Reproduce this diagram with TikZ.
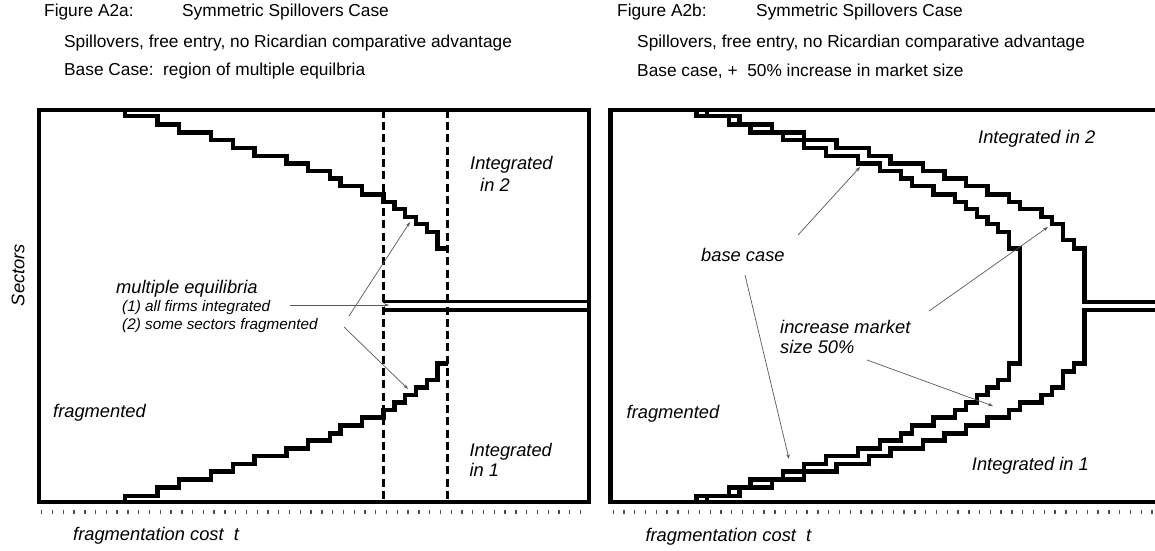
\documentclass[tikz,border=0pt]{standalone}
\usepackage{fontspec}
\setmainfont{Liberation Sans}
\usetikzlibrary{arrows.meta}
\begin{document}
\begin{tikzpicture}[x=1pt,y=-1pt,
  frame/.style={line width=4.4pt},
  stair/.style={line width=4.4pt, line join=miter},
  dline/.style={line width=3.2pt},
  dashline/.style={line width=3pt, dash pattern=on 8pt off 4.3pt},
  pointer/.style={line width=0.7pt, draw=black!65, -{Stealth[length=5pt,width=3.5pt]}},
  tickmark/.style={line width=1.4pt, draw=black!70},
  title/.style={font=\fontsize{17.3}{20}\selectfont, anchor=west, inner sep=0pt},
  lab/.style={font=\fontsize{18.3}{21}\selectfont\itshape, anchor=west, inner sep=0pt},
  smalllab/.style={font=\fontsize{15.3}{18}\selectfont\itshape, anchor=west, inner sep=0pt}
]
\clip (0,0) rectangle (1155,550);
\fill[white] (0,0) rectangle (1155,550);

% ---------- titles ----------
\node[title] (ta1) at (44,12) {Figure A2a:};
\node[title] (ta2) at (182,12) {Symmetric Spillovers Case};
\node[title] (ta3) at (64,43) {Spillovers, free entry, no Ricardian comparative advantage};
\node[title] (ta4) at (64,71) {Base Case:\ \ region of multiple equilbria};
\node[title] (tb1) at (617,12) {Figure A2b:};
\node[title] (tb2) at (756,12) {Symmetric Spillovers Case};
\node[title] (tb3) at (637,43) {Spillovers, free entry, no Ricardian comparative advantage};
\node[title] (tb4) at (637,71) {Base case, +\ \ 50\% increase in market size};

% ---------- frames ----------
\draw[frame] (38.8,109.7) rectangle (588.8,501.9);
\draw[frame] (610.3,109.7) rectangle (1160.3,501.9);

% ---------- ticks ----------
\foreach \k in {0,...,50} {
  \draw[tickmark] ({41.7+10.777*\k},509.8) -- ++(0,3.8);
  \draw[tickmark] ({613.2+10.777*\k},509.8) -- ++(0,3.8);
}

% ---------- left panel ----------
\draw[dashline] (383.3,109.7) -- (383.3,501.9);
\draw[dashline] (447.7,109.7) -- (447.7,501.9);
\draw[dline] (383.3,301.7) -- (589,301.7);
\draw[dline] (383.3,310) -- (589,310);
\begin{scope}[shift={(125,0)}, x=10.777pt]
\draw[stair] (0,109.7) |- (3,115.7) |- (5,124.3) |- (8,132.3) |- (10,140) |- (12,147.7) |- (15,155.7) |- (17,163.3) |- (19,171) |- (20,178.3) |- (22,186) |- (24,194.3) |- (25,201.7) |- (26,209) |- (27,216.7) |- (28,224) |- (29,231.7) |- (30,248.3);
\draw[stair] (0,501.9) |- (3,495.9) |- (5,487.3) |- (8,479.3) |- (10,471.6) |- (12,463.9) |- (15,455.9) |- (17,448.3) |- (19,440.6) |- (20,433.3) |- (22,425.6) |- (24,417.3) |- (25,409.9) |- (26,402.6) |- (27,394.9) |- (28,387.6) |- (29,379.9) |- (30,363.3);
\end{scope}

\node[lab] (lint2) at (470,165) {Integrated};
\node[lab] (lint2b) at (480,185) {in 2};
\node[lab] (lmult) at (116,289) {multiple equilibria};
\node[smalllab] (lone) at (122,307.3) {(1) all firms integrated};
\node[smalllab] (ltwo) at (122,325.7) {(2) some sectors fragmented};
\node[lab] (lfrag) at (53,413) {fragmented};
\node[lab] (lint1) at (469.3,451.7) {Integrated};
\node[lab] (lint1b) at (469.3,470) {in 1};
\node[lab] (lcost) at (73,536) {fragmentation cost\ \ t};
\node[lab, rotate=90, anchor=center] (lsect) at (18,275) {Sectors};

\coordinate (a1s) at (290,305);   \coordinate (a1e) at (389,305);
\coordinate (a2s) at (349,316);   \coordinate (a2e) at (410,222);
\coordinate (a3s) at (344,327);   \coordinate (a3e) at (408,389);
\draw[pointer] (a1s) -- (a1e);
\draw[pointer] (a2s) -- (a2e);
\draw[pointer] (a3s) -- (a3e);

% ---------- right panel ----------
\begin{scope}[shift={(696.5,0)}, x=10.777pt]
\draw[stair] (0,109.7) |- (3,115.7) |- (5,124.3) |- (8,132.3) |- (10,140) |- (12,147.7) |- (15,155.7) |- (17,163.3) |- (19,171) |- (20,178.3) |- (22,186) |- (24,194.3) |- (25,201.7) |- (26,209) |- (27,216.7) |- (28,224) |- (29,231.7) |- (30,248.3)
  -- (30,363.3) -| (29,379.9) -| (28,387.6) -| (27,394.9) -| (26,402.6) -| (25,409.9) -| (24,417.3) -| (22,425.6) -| (20,433.3) -| (19,440.6) -| (17,448.3) -| (15,455.9) -| (12,463.9) -| (10,471.6) -| (8,479.3) -| (5,487.3) -| (3,495.9) -| (0,501.9);
\draw[stair] (1,109.7) |- (4,115.7) |- (7,124.3) |- (10,132.3) |- (13,140) |- (16,147.7) |- (18,155.7) |- (21,163.3) |- (23,171) |- (25,178.3) |- (27,186) |- (29,194.3) |- (30,201.7) |- (32,209) |- (33,216.7) |- (34,224) |- (35,240) |- (36,248.3) |- (45,301.7);
\draw[stair] (45,310) -| (36,363.3) -| (35,371.6) -| (34,387.6) -| (33,394.9) -| (32,402.6) -| (30,409.9) -| (29,417.3) -| (27,425.6) -| (25,433.3) -| (23,440.6) -| (21,448.3) -| (18,455.9) -| (16,463.9) -| (13,471.6) -| (10,479.3) -| (7,487.3) -| (4,495.9) -| (1,501.9);
\end{scope}

\node[lab] (rint2) at (978,138.3) {Integrated in 2};
\node[lab] (rbase) at (701,255) {base case};
\node[lab] (rinc) at (780,326.7) {increase market};
\node[lab] (rinc2) at (780,346.7) {size 50\%};
\node[lab] (rfrag) at (626.5,413.3) {fragmented};
\node[lab] (rint1) at (971.7,465.7) {Integrated in 1};
\node[lab] (rcost) at (645.3,536.7) {fragmentation cost\ \ t};

\coordinate (b1s) at (798,235);   \coordinate (b1e) at (860,167);
\coordinate (b2s) at (745,275);   \coordinate (b2e) at (789,459);
\coordinate (c1s) at (929,311);   \coordinate (c1e) at (1048,227);
\coordinate (c2s) at (867,360);   \coordinate (c2e) at (993,406);
\draw[pointer] (b1s) -- (b1e);
\draw[pointer] (b2s) -- (b2e);
\draw[pointer] (c1s) -- (c1e);
\draw[pointer] (c2s) -- (c2e);
\end{tikzpicture}
\end{document}
